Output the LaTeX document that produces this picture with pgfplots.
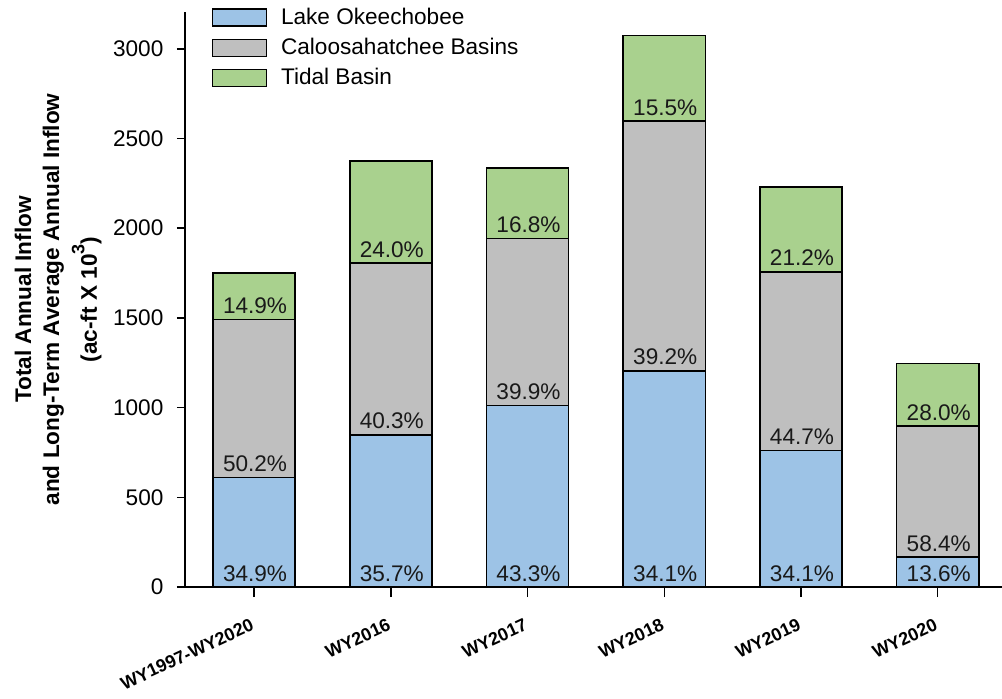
\documentclass[border=0pt]{standalone}
\usepackage{pgfplots}
\pgfplotsset{compat=1.18}
\usepackage{pgfplotstable}
\usepackage{fontspec}
\setmainfont{Liberation Sans}
\definecolor{lakeblue}{HTML}{9DC3E6}
\definecolor{basingrey}{HTML}{BFBFBF}
\definecolor{tidalgreen}{HTML}{A9D18E}

\pgfplotstableread{
x blue grey tidal
0 611 879 261
1 848 957 570
2 1011 932 392
3 1204 1393 476
4 760 997 473
5 166 731 350
}\flows

\pgfplotstableread{
x y lab
0 0 34.9
0 611 50.2
0 1490 14.9
1 0 35.7
1 848 40.3
1 1805 24.0
2 0 43.3
2 1011 39.9
2 1943 16.8
3 0 34.1
3 1204 39.2
3 2597 15.5
4 0 34.1
4 760 44.7
4 1757 21.2
5 0 13.6
5 166 58.4
5 897 28.0
}\pctlabels

\newcommand{\mainfs}{\fontsize{11.3}{13.5}\selectfont}

\begin{document}
\begin{tikzpicture}[font=\mainfs]
\begin{axis}[
  name=main,
  scale only axis, width=408.5pt, height=287.5pt,
  xmin=-0.505, xmax=5.47, ymin=0, ymax=3205,
  ybar stacked, bar width=0.6,
  axis lines*=left,
  axis line style={line width=0.75pt, -},
  tick align=outside,
  major tick style={line width=0.75pt, black},
  xtick style={/pgfplots/major tick length=5pt},
  ytick style={/pgfplots/major tick length=4pt},
  ytick={0,500,1000,1500,2000,2500,3000},
  xtick={0,1,2,3,4,5},
  xticklabels={WY1997-WY2020,WY2016,WY2017,WY2018,WY2019,WY2020},
  x tick label style={xshift=-0.5pt, yshift=-6.5pt, rotate=25, anchor=north east, font=\fontsize{9}{11}\selectfont\bfseries},
  y tick label style={font=\mainfs, xshift=-3pt},
  /pgf/number format/assume math mode=true,
  /pgf/number format/set thousands separator={},
  ylabel={Total Annual Inflow\\and Long-Term Average Annual Inflow\\[3pt](ac-ft X 10\raisebox{0.55em}{\fontsize{9}{9}\selectfont 3})},
  ylabel style={align=center, font=\fontsize{11.3}{14}\selectfont\bfseries,
    at={(axis description cs:-0.1016,0.5)}, anchor=south, inner sep=0pt},
  legend style={draw=none, fill=none, at={(rel axis cs:0.032,1.015)}, anchor=north west, font=\mainfs, row sep=1.5pt, column sep=5pt, inner sep=0pt},
  legend cell align=left,
  legend image code/.code={\draw[#1, line width=0.75pt] (0pt,-4.25pt) rectangle (27pt,4.25pt);},
]
\addplot[fill=lakeblue, draw=black, line width=0.75pt] table[x=x,y=blue]{\flows};
\addplot[fill=basingrey, draw=black, line width=0.75pt] table[x=x,y=grey]{\flows};
\addplot[fill=tidalgreen, draw=black, line width=0.75pt] table[x=x,y=tidal]{\flows};
\legend{Lake Okeechobee, Caloosahatchee Basins, Tidal Basin}
\end{axis}
\begin{axis}[
  scale only axis, width=408.5pt, height=287.5pt,
  xmin=-0.505, xmax=5.47, ymin=0, ymax=3205,
  hide axis, clip=false,
]
\addplot[only marks, mark=*, mark size=0pt, mark options={draw=none, fill=none},
  point meta=explicit symbolic,
  nodes near coords={\pgfplotspointmeta\%},
  nodes near coords style={anchor=base, yshift=3pt, xshift=0.5pt, font=\mainfs, text=black!90, inner sep=0pt}]
  table[x=x,y=y,meta=lab]{\pctlabels};
\end{axis}
\pgfresetboundingbox
\path (main.south west) ++(-92.5pt,-55.5pt) rectangle ([yshift=6pt]main.north east);
\end{tikzpicture}
\end{document}
